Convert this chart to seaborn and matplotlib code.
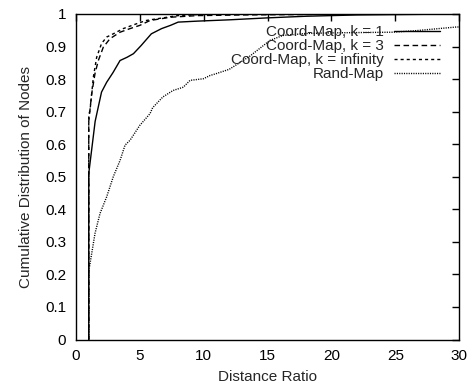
import matplotlib
matplotlib.use("Agg")
import matplotlib.pyplot as plt
import seaborn as sns
import pandas as pd

# series labels, in legend order
series_names = ['Coord-Map, k = 1', 'Coord-Map, k = 3',
                'Coord-Map, k = infinity', 'Rand-Map']

# Coord-Map, k = 1
k1_x = [1, 1, 1.5, 2, 2.4, 2.9, 3.45, 4, 4.5, 5.1, 5.9, 6.7, 7.4, 8, 9.5,
        12, 15, 18, 22, 30]
k1_y = [0, 0.51, 0.67, 0.76, 0.79, 0.82, 0.857, 0.867, 0.878, 0.903, 0.939,
        0.955, 0.965, 0.975, 0.978, 0.982, 0.988, 0.993, 0.997, 1.0]

# Coord-Map, k = 3
k3_x = [1, 1, 1.23, 1.49, 1.75, 2.14, 2.66, 3.45, 4.23, 5.0, 5.8, 7.4, 9.5,
        13, 20, 30]
k3_y = [0, 0.67, 0.755, 0.817, 0.857, 0.898, 0.924, 0.944, 0.955, 0.965,
        0.98, 0.99, 0.995, 0.997, 0.999, 1.0]

# Coord-Map, k = infinity
kinf_x = [1, 1, 1.1, 1.36, 1.62, 2.0, 2.4, 2.92, 3.7, 4.75, 5.5, 6.3, 8,
          10, 30]
kinf_y = [0, 0.69, 0.704, 0.806, 0.867, 0.909, 0.929, 0.939, 0.955, 0.97,
          0.98, 0.985, 0.995, 0.999, 1.0]

# Rand-Map
rand_x = [1, 1, 1.23, 1.49, 1.88, 2.4, 2.92, 3.45, 3.84, 4.23, 5.0, 5.8,
          6.0, 6.8, 7.6, 8.4, 8.93, 9.97, 10.5, 11.0, 12.0, 13.0, 13.6, 14.9,
          15.2, 16.2, 18, 20, 24.8, 26.7, 29.8, 30]
rand_y = [0, 0.21, 0.264, 0.326, 0.387, 0.438, 0.5, 0.55, 0.597, 0.612,
          0.658, 0.694, 0.712, 0.745, 0.765, 0.775, 0.796, 0.801, 0.811,
          0.817, 0.83, 0.855, 0.87, 0.91, 0.919, 0.934, 0.94, 0.942, 0.944,
          0.949, 0.96, 0.96]

x_ticks = [0, 5, 10, 15, 20, 25, 30]
y_ticks = [0, 0.1, 0.2, 0.3, 0.4, 0.5, 0.6, 0.7, 0.8, 0.9, 1.0]
y_tick_labels = ['0', '0.1', '0.2', '0.3', '0.4', '0.5', '0.6', '0.7',
                 '0.8', '0.9', '1']

sns.set_theme(style="white")
plt.rcParams['font.family'] = ['Liberation Sans', 'DejaVu Sans']

frames = []
for name, xs, ys in zip(series_names, [k1_x, k3_x, kinf_x, rand_x],
                        [k1_y, k3_y, kinf_y, rand_y]):
    frames.append(pd.DataFrame({'ratio': xs, 'cdf': ys, 'series': name}))
df = pd.concat(frames, ignore_index=True)

line_dashes = {
    'Coord-Map, k = 1': '',
    'Coord-Map, k = 3': (4, 2.5),
    'Coord-Map, k = infinity': (2.2, 2.2),
    'Rand-Map': (0.8, 0.9),
}

fig, ax = plt.subplots(figsize=(4.69, 3.88), dpi=100)
fig.subplots_adjust(left=0.162, right=0.979, bottom=0.125, top=0.964)

sns.lineplot(data=df, x='ratio', y='cdf', hue='series', style='series',
             hue_order=series_names, style_order=series_names,
             palette=['black'] * 4, dashes=line_dashes, estimator=None,
             sort=False, linewidth=1, legend=False, ax=ax)

ax.set_xlim(0, 30)
ax.set_ylim(0, 1)
ax.set_xticks(x_ticks)
ax.set_yticks(y_ticks, labels=y_tick_labels)
ax.tick_params(direction='in', length=5, width=1, top=True, right=True,
               pad=7, labelsize=11, colors='black')
for s in ax.spines.values():
    s.set_color('black')
    s.set_linewidth(1)

ax.set_xlabel('Distance Ratio', fontsize=11, labelpad=5)
ax.set_ylabel('Cumulative Distribution of Nodes', fontsize=11, labelpad=9)

leg = ax.legend(ax.get_lines()[:4], series_names, loc='upper right',
                bbox_to_anchor=(0.95, 0.966), frameon=False, markerfirst=False,
                handlelength=3, handletextpad=0.7, labelspacing=0.0,
                fontsize=11, borderaxespad=0, borderpad=0)
# gnuplot-style legend: labels right-aligned, samples on the right
for col in leg._legend_handle_box.get_children():
    col.align = 'right'

plt.savefig('out.png', dpi=100)
plt.close()
